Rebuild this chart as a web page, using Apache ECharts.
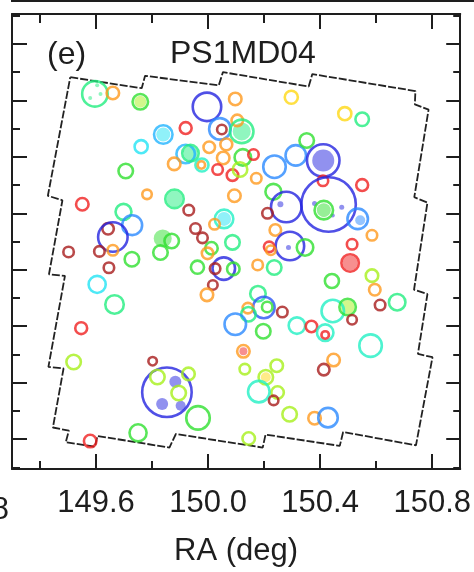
<!DOCTYPE html>
<html>
<head>
<meta charset="utf-8">
<title>PS1MD04</title>
<script src="https://cdn.jsdelivr.net/npm/echarts@6/dist/echarts.min.js"></script>
<style>
  html, body { margin: 0; padding: 0; background: #fff; }
  #chart { width: 474px; height: 572px; }
</style>
</head>
<body>
<div id="chart"></div>
<script>
  // cluster candidates: RA, Dec (deg), richness (ring radius), redshift bin
  const ra = [149.596, 149.660, 149.758, 149.996, 150.097, 150.297, 149.920, 150.042, 150.049, 150.104,
    150.120, 149.840, 149.761, 150.004, 150.065, 149.920, 149.937, 149.879, 149.978, 149.976,
    150.054, 150.124, 150.162, 150.034, 150.087, 150.114, 150.172, 150.237, 150.313, 150.352,
    149.706, 149.782, 149.880, 150.094, 150.233, 150.279, 149.931, 149.551, 149.698, 149.729,
    149.643, 149.660, 150.057, 150.023, 150.212, 149.955, 149.980, 150.240, 150.292, 150.087,
    149.870, 149.830, 149.728, 150.012, 149.998, 149.502, 149.612, 149.660, 149.646, 149.962,
    150.056, 150.025, 150.090, 150.017, 149.604, 149.996, 149.666, 149.547, 149.520, 149.802,
    149.853, 149.819, 149.895, 149.930, 149.750, 149.579, 149.964, 150.218, 150.224, 150.346,
    150.177, 150.236, 150.178, 150.199, 150.211, 150.142, 150.144, 150.265, 150.097, 150.197,
    150.317, 150.369, 150.126, 150.131, 150.245, 150.206, 150.248, 150.181, 150.234, 150.291,
    150.145, 150.380, 150.428, 150.445, 150.498, 150.514, 150.418, 150.418, 150.580, 150.448,
    150.413, 150.442, 150.585, 150.595, 150.614, 150.675, 150.488, 150.550, 150.411, 150.410,
    150.550, 150.430, 150.413, 150.534, 150.585, 150.514, 150.507]
  const dec = [2.823, 2.826, 2.795, 2.777, 2.805, 2.811, 2.702, 2.699, 2.697, 2.729,
    2.690, 2.679, 2.636, 2.634, 2.644, 2.610, 2.613, 2.575, 2.571, 2.571,
    2.596, 2.598, 2.608, 2.555, 2.535, 2.555, 2.524, 2.565, 2.605, 2.658,
    2.550, 2.467, 2.451, 2.462, 2.476, 2.422, 2.411, 2.432, 2.405, 2.358,
    2.345, 2.316, 2.380, 2.361, 2.400, 2.346, 2.313, 2.341, 2.284, 2.297,
    2.302, 2.261, 2.237, 2.276, 2.258, 2.263, 2.265, 2.269, 2.207, 2.209,
    2.204, 2.204, 2.203, 2.146, 2.148, 2.111, 2.077, 1.993, 1.873, 1.876,
    1.766, 1.820, 1.763, 1.831, 1.622, 1.593, 1.675, 2.281, 2.269, 2.279,
    2.217, 2.208, 2.115, 2.066, 2.068, 2.064, 2.042, 2.050, 2.007, 1.982,
    2.002, 1.999, 1.911, 1.848, 1.860, 1.819, 1.765, 1.768, 1.737, 1.688,
    1.602, 1.674, 1.676, 2.054, 2.068, 2.023, 1.977, 1.969, 1.931, 1.880,
    1.846, 2.160, 2.179, 2.129, 2.075, 2.085, 2.753, 2.733, 2.587, 2.515,
    2.500, 2.431, 2.411, 2.380, 2.322, 2.290, 2.224]
  const richness = [13.5, 7, 8.5, 15, 7, 7.3, 6.7, 11.5, 5.5, 6.5,
    12.5, 10, 7.3, 6.5, 6.7, 10, 9, 7, 7.3, 4.5,
    7, 9, 6, 6, 6.5, 8, 6, 12, 11, 8,
    8, 5.5, 10, 7, 8.7, 16, 6, 7, 8.7, 10.7,
    6.5, 15.5, 10, 6, 6, 6, 6, 6.5, 15, 8,
    8, 8, 8, 7, 6.5, 6, 6, 6, 6, 7.3,
    12, 6, 7, 5.5, 9.3, 7, 10, 6.7, 8, 5,
    25.5, 8, 8, 7, 9.3, 7, 12.5, 6, 5.5, 9,
    6, 8, 8.5, 11.5, 6, 6, 8, 6, 11.5, 8,
    9, 6.5, 7, 6, 7, 8, 7, 11.5, 5.5, 8,
    7, 7, 10.5, 12, 9, 5.5, 9, 4.5, 12, 7,
    6.5, 7.8, 7, 6.5, 6, 9, 7.3, 7.5, 17, 6,
    6.7, 28, 10, 11, 6, 6, 9.5]
  const zbin = [6, 2, 5, 12, 2, 3, 1, 10, 0, 2,
    6, 9, 8, 2, 2, 9, 6, 2, 7, 2,
    2, 5, 1, 1, 1, 4, 2, 10, 10, 5,
    5, 2, 6, 2, 5, 12, 0, 1, 6, 10,
    0, 12, 7, 2, 0, 0, 0, 2, 12, 6,
    5, 5, 5, 5, 2, 0, 0, 2, 0, 5,
    12, 0, 5, 0, 8, 2, 6, 1, 4, 0,
    12, 4, 4, 4, 5, 1, 5, 1, 2, 5,
    2, 6, 6, 11, 5, 2, 6, 0, 10, 5,
    7, 1, 2, 4, 4, 4, 4, 7, 0, 4,
    4, 2, 10, 7, 5, 0, 7, 1, 7, 2,
    0, 5, 4, 2, 0, 6, 3, 6, 12, 1,
    1, 12, 5, 10, 2, 1, 1]

  // filled members inside the rings
  const fillRa = [149.604, 149.616, 149.579, 149.758, 150.120, 149.840, 149.937, 149.880, 150.258, 150.057,
    149.838, 150.287, 149.883, 149.836, 149.902, 150.411, 150.477, 150.380, 150.445, 150.413,
    150.543, 150.507, 150.498, 150.206, 150.126]
  const fillDec = [2.854, 2.823, 2.808, 2.795, 2.690, 2.679, 2.613, 2.451, 2.432, 2.380,
    2.311, 2.279, 1.803, 1.724, 1.718, 2.587, 2.421, 2.435, 2.392, 2.411,
    2.375, 2.224, 2.068, 1.819, 1.911]
  const fillRich = [2, 2, 2, 6, 9, 7, 7, 8, 3, 7,
    9, 2.5, 6, 6, 5, 11, 2.5, 2.5, 2, 7,
    5, 7.5, 7, 5, 4]
  const fillBin = [6, 6, 6, 4, 6, 8, 6, 6, 12, 8,
    5, 12, 12, 12, 12, 12, 12, 12, 12, 5,
    10, 1, 4, 3, 1]

  // survey footprint outline
  const fieldRa = [149.508, 149.763, 149.775, 150.038, 150.053, 150.359, 150.372, 150.740, 150.738, 150.787,
    150.736, 150.783, 150.735, 150.783, 150.749, 150.801, 150.742, 150.482, 150.470, 150.205,
    150.195, 149.885, 149.862, 149.605, 149.596, 149.492, 149.503, 149.446, 149.484, 149.430,
    149.489, 149.432, 149.480, 149.428, 149.508]
  const fieldDec = [2.882, 2.843, 2.887, 2.853, 2.900, 2.849, 2.893, 2.833, 2.786, 2.767,
    2.457, 2.438, 2.129, 2.114, 1.902, 1.890, 1.578, 1.625, 1.576, 1.616,
    1.570, 1.618, 1.570, 1.611, 1.573, 1.589, 1.630, 1.641, 1.850, 1.856,
    2.178, 2.184, 2.446, 2.462, 2.882]

  const majorRa = [149.6, 150.0, 150.4, 150.8]
  const minorRa = [149.4, 149.8, 150.2, 150.6]
  const majorDec = [1.6, 1.8, 2.0, 2.2, 2.4, 2.6, 2.8, 3.0]
  const minorDec = [1.5, 1.7, 1.9, 2.1, 2.3, 2.5, 2.7, 2.9, 3.1]

  const palette = ['#a81c1c', '#f02020', '#ff9a1e', '#ffd814', '#a6f01a', '#30e030', '#22ee80',
    '#22f0c4', '#22e4f4', '#22b4ff', '#2a8aff', '#2a55f5', '#2424e0']

  const FONT = 'Liberation Sans, Arial, sans-serif'
  const INK = '#1e1e1e'
  const raRange = [149.3, 150.9]
  const decRange = [1.494, 3.106]

  function frameAxis(pos, ticks, len, showLine, range) {
    return {
      type: 'value',
      position: pos,
      min: range[0],
      max: range[1],
      axisLine: { show: showLine, onZero: false, lineStyle: { color: INK, width: 2 } },
      axisTick: { show: true, inside: true, length: len, customValues: ticks, lineStyle: { color: INK, width: 2 } },
      axisLabel: { show: false },
      splitLine: { show: false }
    }
  }

  const xMain = frameAxis('bottom', majorRa, 15, true, raRange)
  xMain.axisLabel = {
    show: true,
    customValues: majorRa,
    margin: 19,
    color: INK,
    fontSize: 31,
    fontFamily: FONT,
    formatter: v => v.toFixed(1)
  }
  xMain.name = 'RA (deg)'
  xMain.nameLocation = 'middle'
  xMain.nameGap = 67
  xMain.nameTextStyle = { color: INK, fontSize: 31, fontFamily: FONT }

  const ringData = ra.map((x, i) => ({
    value: [x, dec[i], richness[i]],
    itemStyle: { color: 'rgba(255,255,255,0)', borderColor: palette[zbin[i]], borderWidth: 2.6 }
  }))
  const fillData = fillRa.map((x, i) => ({
    value: [x, fillDec[i], fillRich[i]],
    itemStyle: { color: palette[fillBin[i]], opacity: 0.5 }
  }))

  const chart = echarts.init(document.getElementById('chart'))
  chart.setOption({
    animation: false,
    grid: { left: 12, right: 2.5, top: 14, bottom: 97 },
    xAxis: [
      xMain,
      frameAxis('bottom', minorRa, 8, false, raRange),
      frameAxis('top', majorRa, 15, true, raRange),
      frameAxis('top', minorRa, 9, false, raRange)
    ],
    yAxis: [
      frameAxis('left', majorDec, 15, true, decRange),
      frameAxis('left', minorDec, 8, false, decRange),
      frameAxis('right', majorDec, 14, true, decRange),
      frameAxis('right', minorDec, 7, false, decRange)
    ],
    graphic: [
      { type: 'line', shape: { x1: 11, y1: 1, x2: 474, y2: 1 }, style: { stroke: INK, lineWidth: 2 } },
      { type: 'text', x: 47, y: 55, style: { text: '(e)', font: '32px ' + FONT, fill: INK, textVerticalAlign: 'middle' } },
      { type: 'text', x: 170, y: 54, style: { text: 'PS1MD04', font: '32px ' + FONT, fill: INK, textVerticalAlign: 'middle' } },
      { type: 'text', x: 9, y: 510, style: { text: '150.8', font: '31px ' + FONT, fill: INK, textAlign: 'right', textVerticalAlign: 'middle' } }
    ],
    series: [
      {
        type: 'line',
        data: fieldRa.map((x, i) => [x, fieldDec[i]]),
        symbol: 'none',
        silent: true,
        z: 1,
        lineStyle: { color: '#222', width: 1.8, type: [8, 2] }
      },
      {
        type: 'scatter',
        data: fillData,
        symbol: 'circle',
        symbolSize: v => v[2] * 2,
        silent: true,
        z: 2
      },
      {
        type: 'scatter',
        data: ringData,
        symbol: 'circle',
        symbolSize: v => v[2] * 2 - 1.5,
        silent: true,
        z: 3
      }
    ]
  })
</script>
</body>
</html>
